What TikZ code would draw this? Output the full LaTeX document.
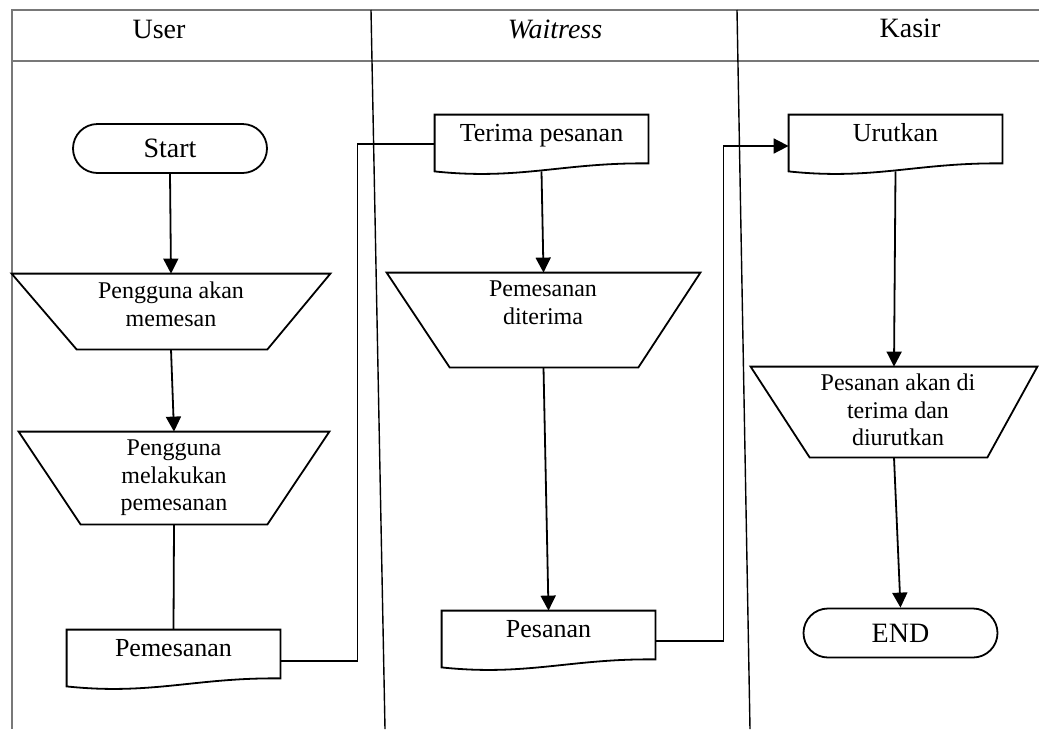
\documentclass[tikz,border=0pt]{standalone}
\usepackage{fontspec}
\setmainfont{Liberation Serif}
\usetikzlibrary{arrows.meta,shapes.misc}

\definecolor{framegray}{RGB}{120,120,120}

\tikzset{
  laneline/.style={line width=0.7pt, draw=black},
  frameline/.style={line width=1pt, draw=framegray},
  shapeline/.style={line width=0.9pt, line join=miter},
  flow/.style={line width=0.9pt, -{Triangle[length=7.5pt,width=7.5pt]}},
  plainflow/.style={line width=0.9pt},
  headtext/.style={font=\fontsize{14pt}{16pt}\selectfont, anchor=base, inner sep=0pt},
  terminal/.style={rounded rectangle, draw, line width=0.9pt, minimum width=97pt,
    minimum height=24.5pt, inner sep=0pt, font=\fontsize{14pt}{16pt}\selectfont},
  docnode/.style={rectangle, inner xsep=0pt, inner ysep=0pt, minimum width=106.5pt,
    text height=13pt, text depth=15pt, font=\fontsize{13pt}{15pt}\selectfont},
  traparea/.style={rectangle, inner sep=0pt},
  traptext/.style={align=center, inner sep=0pt, font=\fontsize{12pt}{13.8pt}\selectfont},
}

% document symbol: straight top and sides, wavy bottom edge
\newcommand\docoutline[1]{%
  \draw[shapeline] (#1.north west) -- (#1.north east) -- ([yshift=4pt]#1.south east)
    .. controls ([xshift=-42.6pt,yshift=4.5pt]#1.south east)
       and ([xshift=42.6pt,yshift=-4.5pt]#1.south west) .. (#1.south west) -- cycle;}

% manual-operation symbol: wide top, narrow bottom
\newcommand\trapoutline[3]{%
  \draw[shapeline] (#1.north west) -- (#1.north east) -- ([xshift=-#3]#1.south east)
    -- ([xshift=#2]#1.south west) -- cycle;}

\begin{document}
\begin{tikzpicture}[x=0.5pt, y=-0.5pt]
\useasboundingbox (0,0) rectangle (1039,729);

% swimlane frame and header
\draw[frameline] (1039,10) -- (12,10) -- (12,729);
\draw[frameline] (12,61) -- (1039,61);
\draw[laneline] (371,10) -- (385,729);
\draw[laneline] (737,10) -- (750,729);

\node[headtext] (hUser) at (159,38) {User};
\node[headtext] (hWait) at (555,38) {\itshape Waitress};
\node[headtext] (hKasir) at (910,37) {Kasir};

% User lane
\node[terminal] (start) at (170,148.5) {Start};

\node[traparea, minimum width=159pt, minimum height=37.5pt] (u1) at (171,311.5) {};
\trapoutline{u1}{32.5pt}{31.5pt}
\node[traptext] (u1t) at (171,304) {Pengguna akan\\memesan};

\node[traparea, minimum width=155pt, minimum height=46pt] (u2) at (174,478) {};
\trapoutline{u2}{31pt}{31pt}
\node[traptext] (u2t) at (174,478) {Pengguna\\melakukan\\pemesanan};

\node[docnode] (pem) at (173.5,658) {Pemesanan};
\docoutline{pem}

% Waitress lane
\node[docnode] (terima) at (541.5,143) {Terima pesanan};
\docoutline{terima}

\node[traparea, minimum width=156.5pt, minimum height=47pt] (w1) at (543.5,320) {};
\trapoutline{w1}{31.5pt}{31pt}
\node[traptext] (w1t) at (543,302.5) {Pemesanan\\diterima};

\node[docnode] (pes) at (548.5,639) {Pesanan};
\docoutline{pes}

% Kasir lane
\node[docnode] (urut) at (895.5,143) {Urutkan};
\docoutline{urut}

\node[traparea, minimum width=143pt, minimum height=45pt] (k1) at (894,412) {};
\trapoutline{k1}{29.5pt}{25pt}
\node[traptext] (k1t) at (898,410) {Pesanan akan di\\terima dan\\diurutkan};

\node[terminal] (end) at (900.5,633) {END};

% flow connectors
\draw[flow] (start.south) -- (u1.north);
\draw[flow] (u1.south) -- (u2.north);
\draw[plainflow] (u2.south) -- (pem.north);
\draw[plainflow] ([yshift=-1.5pt]pem.east) -- ++(77,0) |- ([yshift=-0.5pt]terima.west);
\draw[flow] (terima.south) -- (w1.north);
\draw[flow] (w1.south) -- (pes.north);
\draw[flow] ([yshift=-1pt]pes.east) -- ++(68,0) |- ([yshift=-1.5pt]urut.west);
\draw[flow] (urut.south) -- (k1.north);
\draw[flow] (k1.south) -- (end.north);
\end{tikzpicture}
\end{document}
